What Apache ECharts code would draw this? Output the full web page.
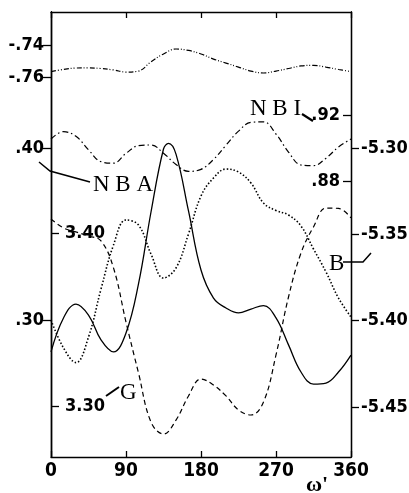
<!DOCTYPE html>
<html>
<head>
<meta charset="utf-8">
<script src="https://cdn.jsdelivr.net/npm/echarts@6/dist/echarts.min.js"></script>
<style>
  html, body { margin: 0; padding: 0; background: #fff; }
  #chart { width: 409px; height: 493px; }
</style>
</head>
<body>
<div id="chart"></div>
<script>
// omega' in degrees, every 15
const angles = [0, 15, 30, 45, 60, 75, 90, 105, 120, 135, 150, 165, 180,
  195, 210, 225, 240, 255, 270, 285, 300, 315, 330, 345, 360];
// NBA has one extra point on its sharp peak
const nbaAngles = [0, 15, 30, 45, 60, 75, 90, 105, 120, 135, 141, 150, 165, 180,
  195, 210, 225, 240, 255, 270, 285, 300, 315, 330, 345, 360];

const upperValues = [-0.7566, -0.7553, -0.7544, -0.7543, -0.7547, -0.7556, -0.7569, -0.7563,
  -0.7505, -0.7456, -0.7425, -0.7434, -0.7456, -0.7488, -0.7513, -0.7538, -0.7563, -0.7575,
  -0.7563, -0.7547, -0.7531, -0.7527, -0.7538, -0.7553, -0.7566];
const nbiValues = [0.9056, 0.9100, 0.9072, 0.8991, 0.8920, 0.8911, 0.8970, 0.9016, 0.9020,
  0.8971, 0.8903, 0.8862, 0.8874, 0.8933, 0.9019, 0.9103, 0.9156, 0.9159, 0.9086, 0.8978,
  0.8900, 0.8896, 0.8941, 0.9008, 0.9056];
const nbaValues = [0.2814, 0.3012, 0.3093, 0.3029, 0.2884, 0.2814, 0.2924, 0.3210, 0.3629,
  0.3996, 0.4029, 0.3966, 0.3635, 0.3291, 0.3128, 0.3070, 0.3041, 0.3064, 0.3084, 0.3012,
  0.2855, 0.2697, 0.2627, 0.2633, 0.2697, 0.2796];
const gValues = [3.4084, 3.4032, 3.4009, 3.3986, 3.3957, 3.3801, 3.3488, 3.3194, 3.2910,
  3.2841, 3.2921, 3.3061, 3.3159, 3.3124, 3.3061, 3.2980, 3.2951, 3.3026, 3.3298, 3.3633,
  3.3887, 3.4038, 3.4147, 3.4145, 3.4090];
const bValues = [-5.3996, -5.4158, -5.4243, -5.4095, -5.3817, -5.3562, -5.3417, -5.3446,
  -5.3614, -5.3753, -5.3695, -5.3498, -5.3278, -5.3174, -5.3122, -5.3139, -5.3203, -5.3319,
  -5.3362, -5.3388, -5.3452, -5.3585, -5.3718, -5.3869, -5.3979];

const upperTicks = [-0.74, -0.76];
const nbaTicks = [0.40, 0.30];
const gTicks = [3.40, 3.30];
const nbiTicks = [0.92, 0.88];
const bTicks = [-5.30, -5.35, -5.40, -5.45];

const numFont = "'Liberation Sans Narrow', 'DejaVu Sans Condensed', 'Arial Narrow', sans-serif";
const serifFont = "'Liberation Serif', 'DejaVu Serif', serif";

function fmt(v) {
  let s = Math.abs(v).toFixed(2);
  if (Math.abs(v) < 1) s = s.replace(/^0/, '');
  return (v < 0 ? '-' : '') + s;
}

function pairs(xs, ys) {
  return xs.map((x, i) => [x, ys[i]]);
}

function yAx(min, max, ticks, pos, inside, margin) {
  return {
    type: 'value', min: min, max: max, position: pos, offset: 0,
    axisLine: { show: true, onZero: false, lineStyle: { color: '#000', width: 1.3 } },
    axisTick: { show: true, inside: inside, length: 8, customValues: ticks,
      lineStyle: { color: '#000', width: 1.3 } },
    axisLabel: { show: true, inside: inside, margin: margin, customValues: ticks,
      formatter: fmt, color: '#000', fontFamily: numFont, fontWeight: 'bold', fontSize: 18 },
    splitLine: { show: false }
  };
}

function line(xi, yi, data, dash, width) {
  return {
    type: 'line', xAxisIndex: xi, yAxisIndex: yi, data: data,
    showSymbol: false, smooth: 0.4, silent: true, animation: false,
    lineStyle: { color: '#000', width: width, type: dash }
  };
}

const chart = echarts.init(document.getElementById('chart'), null, { renderer: 'canvas' });

chart.setOption({
  backgroundColor: '#fff',
  animation: false,
  grid: { left: 51, right: 58, top: 12, bottom: 36, containLabel: false, outerBoundsMode: 'none' },
  xAxis: [
    {
      type: 'value', min: 0, max: 360, interval: 90, position: 'bottom',
      axisLine: { show: true, onZero: false, lineStyle: { color: '#000', width: 1.3 } },
      axisTick: { inside: true, length: 6, lineStyle: { color: '#000', width: 1.3 } },
      axisLabel: { margin: 5, color: '#000', fontFamily: numFont, fontWeight: 'bold', fontSize: 19 },
      splitLine: { show: false }
    },
    {
      type: 'value', min: 0, max: 360, interval: 90, position: 'top',
      axisLine: { show: true, onZero: false, lineStyle: { color: '#000', width: 1.3 } },
      axisTick: { inside: true, length: 6, lineStyle: { color: '#000', width: 1.3 } },
      axisLabel: { show: false },
      splitLine: { show: false }
    }
  ],
  yAxis: [
    yAx(-0.9975, -0.719375, upperTicks, 'left', false, 7),
    yAx(0.22021, 0.47938, nbaTicks, 'left', false, 7),
    yAx(3.27081, 3.52803, gTicks, 'left', true, 14),
    yAx(0.71484, 0.98179, nbiTicks, 'right', true, 11),
    yAx(-5.47896, -5.22124, bTicks, 'right', false, 10)
  ],
  series: [
    line(0, 0, pairs(angles, upperValues), [5, 2, 1, 2, 1, 2], 1.2),
    line(0, 3, pairs(angles, nbiValues), [6, 3, 1.5, 3], 1.2),
    line(0, 1, pairs(nbaAngles, nbaValues), 'solid', 1.3),
    line(0, 2, pairs(angles, gValues), [5, 3.5], 1.2),
    line(0, 4, pairs(angles, bValues), [1.5, 2], 1.6)
  ],
  graphic: [
    { type: 'text', left: 250, top: 97,
      style: { text: 'N B I', font: '23px ' + serifFont, fill: '#000' } },
    { type: 'polyline', shape: { points: [[302, 114], [313, 121]] },
      style: { stroke: '#000', lineWidth: 2.2, fill: null } },
    { type: 'text', left: 93, top: 173,
      style: { text: 'N B A', font: '23px ' + serifFont, fill: '#000' } },
    { type: 'polyline', shape: { points: [[90, 182], [50, 171], [39, 162]] },
      style: { stroke: '#000', lineWidth: 1.5, fill: null } },
    { type: 'text', left: 329, top: 252,
      style: { text: 'B', font: '23px ' + serifFont, fill: '#000' } },
    { type: 'polyline', shape: { points: [[343, 262], [363, 262], [371, 253]] },
      style: { stroke: '#000', lineWidth: 1.5, fill: null } },
    { type: 'text', left: 120, top: 381,
      style: { text: 'G', font: '23px ' + serifFont, fill: '#000' } },
    { type: 'polyline', shape: { points: [[106, 396], [119, 387]] },
      style: { stroke: '#000', lineWidth: 2, fill: null } },
    { type: 'text', left: 306, top: 474,
      style: { text: "ω'", font: 'bold 22px ' + serifFont, fill: '#000' } }
  ]
});
</script>
</body>
</html>
